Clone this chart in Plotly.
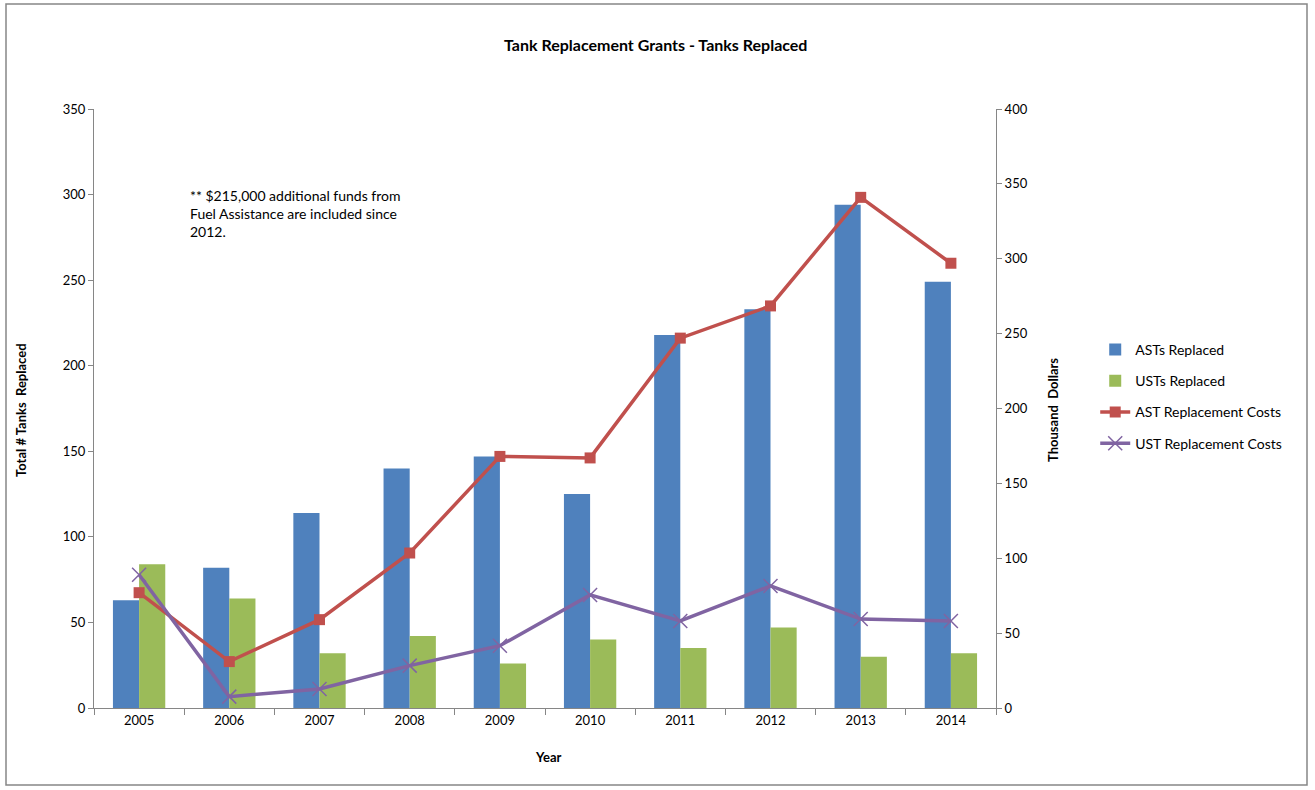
import plotly.graph_objects as go

years = ["2005", "2006", "2007", "2008", "2009", "2010", "2011", "2012", "2013", "2014"]
asts_replaced = [63, 82, 114, 140, 147, 125, 218, 233, 294, 249]
usts_replaced = [84, 64, 32, 42, 26, 40, 35, 47, 30, 32]
ast_costs = [77, 31, 59, 103.5, 168, 167, 247, 268.5, 341, 297]
ust_costs = [89, 7.6, 12.7, 28.3, 41.6, 75.5, 58.1, 81.5, 59.4, 58.1]

FONT = "Lato"
AXIS = "#868686"

fig = go.Figure()
fig.add_trace(go.Bar(x=years, y=asts_replaced, name="ASTs Replaced",
                     marker=dict(color="#4F81BD", line=dict(width=0)),
                     legendgroup="a"))
fig.add_trace(go.Bar(x=years, y=usts_replaced, name="USTs Replaced",
                     marker=dict(color="#9BBB59", line=dict(width=0)),
                     legendgroup="b"))
fig.add_trace(go.Scatter(x=years, y=ast_costs, name="AST Replacement Costs", yaxis="y2",
                         mode="lines+markers", line=dict(color="#C0504D", width=3.5),
                         marker=dict(symbol="square", size=11, color="#C0504D"),
                         legendgroup="c"))
fig.add_trace(go.Scatter(x=years, y=ust_costs, name="UST Replacement Costs", yaxis="y2",
                         mode="lines+markers", line=dict(color="#8064A2", width=3.5),
                         marker=dict(symbol="x-thin", size=14, color="#8064A2",
                                     line=dict(width=1.5, color="#8064A2")),
                         legendgroup="d"))

fig.update_layout(
    width=1315, height=790,
    margin=dict(l=94, r=319, t=109, b=82),
    paper_bgcolor="white", plot_bgcolor="white",
    font=dict(family=FONT, size=13, color="#000000"),
    barmode="group", bargap=0.42, bargroupgap=0,
    showlegend=True,
    legend=dict(x=1.11, y=0.52, xanchor="left", yanchor="middle",
                font=dict(family=FONT, size=14), tracegroupgap=10,
                traceorder="grouped", bgcolor="rgba(0,0,0,0)"),
    xaxis=dict(type="category", range=[-0.5, 9.5], showline=True, linecolor=AXIS, linewidth=1,
               ticks="outside", ticklen=6, tickcolor=AXIS, tickson="boundaries",
               showgrid=False, tickfont=dict(size=13)),
    yaxis=dict(range=[0, 350], dtick=50, showline=True, linecolor=AXIS, linewidth=1,
               ticks="outside", ticklen=5, tickcolor=AXIS, showgrid=False,
               zeroline=False, tickfont=dict(size=13)),
    yaxis2=dict(range=[0, 400], dtick=50, overlaying="y", side="right",
                showline=True, linecolor=AXIS, linewidth=1,
                ticks="outside", ticklen=5, tickcolor=AXIS, showgrid=False,
                zeroline=False, tickfont=dict(size=13)),
    annotations=[
        dict(text="<b>Tank Replacement Grants - Tanks Replaced</b>", xref="paper", yref="paper",
             x=(655 - 94) / 902, y=(708 - 45) / 599, xanchor="center", yanchor="middle",
             showarrow=False, font=dict(size=16)),
        dict(text="** $215,000 additional funds from<br>Fuel Assistance are included since<br>2012.",
             xref="paper", yref="paper", x=(188 - 94) / 902, y=(708 - 185) / 599,
             xanchor="left", yanchor="top", align="left", showarrow=False,
             font=dict(size=14)),
        dict(text="<b>Year</b>", xref="paper", yref="paper", x=(548 - 94) / 902,
             y=(708 - 757) / 599, xanchor="center", yanchor="middle", showarrow=False,
             font=dict(size=13)),
        dict(text="<b>Total # Tanks  Replaced</b>", xref="paper", yref="paper",
             x=(21 - 94) / 902, y=(708 - 410) / 599, xanchor="center", yanchor="middle",
             textangle=-90, showarrow=False, font=dict(size=13)),
        dict(text="<b>Thousand  Dollars</b>", xref="paper", yref="paper",
             x=(1053 - 94) / 902, y=(708 - 410) / 599, xanchor="center", yanchor="middle",
             textangle=-90, showarrow=False, font=dict(size=13)),
    ],
    shapes=[
        dict(type="rect", xref="paper", yref="paper",
             x0=(6 - 94) / 902, x1=(1307 - 94) / 902,
             y0=(708 - 785) / 599, y1=(708 - 4) / 599,
             line=dict(color=AXIS, width=1.5), fillcolor="rgba(0,0,0,0)", layer="below"),
    ],
)

fig.write_html("out.html", config={"displayModeBar": False},
               post_script="document.body.style.margin='0';")
